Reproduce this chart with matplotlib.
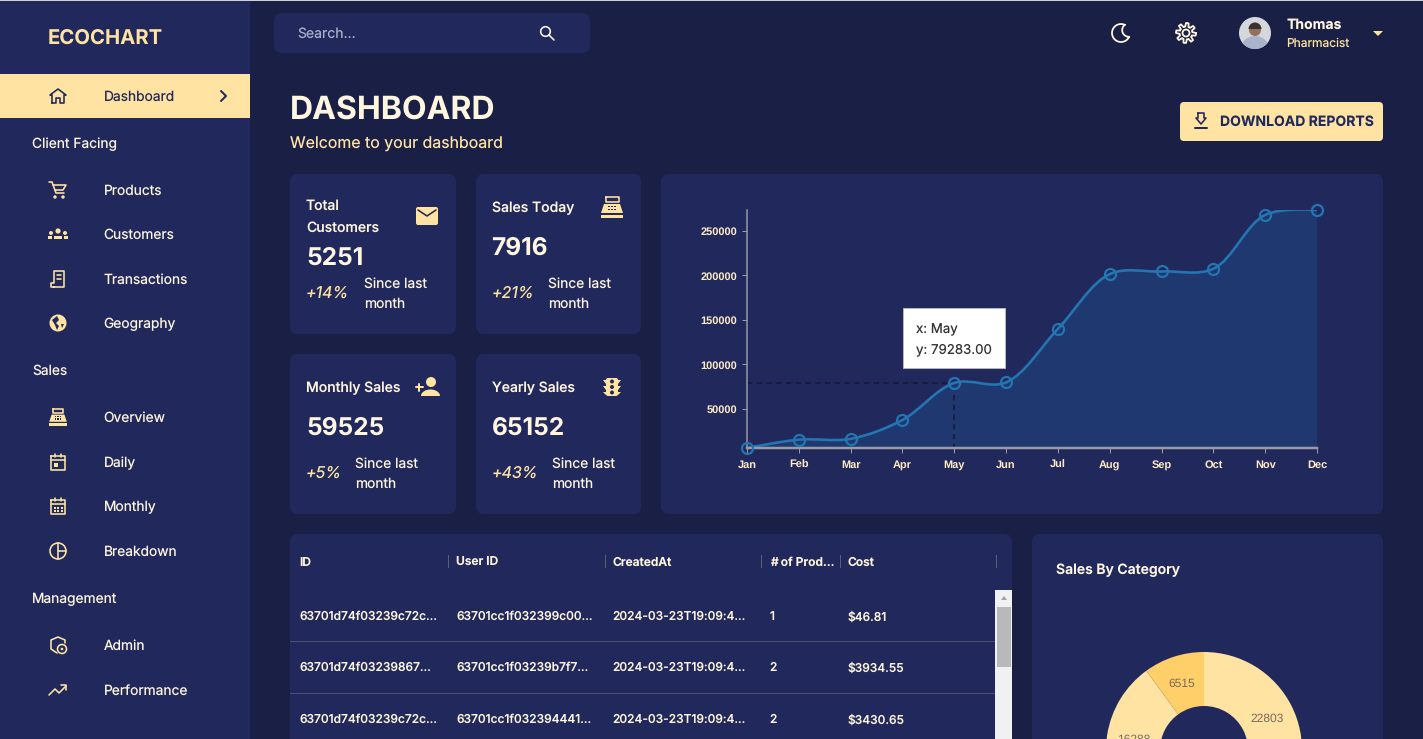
import matplotlib
matplotlib.use('Agg')
import matplotlib.pyplot as plt
import numpy as np
from matplotlib.patches import Circle, FancyBboxPatch, PathPatch, Polygon, Rectangle, Wedge
from matplotlib.path import Path

W, H = 1423, 739

BG = '#191f45'
PANEL = '#21295c'
YELLOW = '#ffe3a3'
CREAM = '#fff6e0'

plt.rcParams['font.family'] = ['Inter', 'DejaVu Sans']
plt.rcParams['text.hinting'] = 'no_hinting'
plt.rcParams['text.hinting_factor'] = 1

# chart data
months = ['Jan', 'Feb', 'Mar', 'Apr', 'May', 'Jun', 'Jul', 'Aug', 'Sep', 'Oct', 'Nov', 'Dec']
sales = [6200, 15600, 16500, 37700, 79283, 79900, 140000, 201500, 204500, 207500, 268000, 273500]
y_ticks = [50000, 100000, 150000, 200000, 250000]

category_values = [22803, 19545, 16288, 6515]
category_labels = ['22803', '', '16288', '6515']
category_colors = [YELLOW, YELLOW, YELLOW, '#ffd06a']

# page text
menu_items = ['Products', 'Customers', 'Transactions', 'Geography', 'Overview', 'Daily',
              'Monthly', 'Breakdown', 'Admin', 'Performance']
menu_y = [190, 234, 279, 323, 417, 462, 506, 551, 645, 690]
menu_heads = ['Client Facing', 'Sales', 'Management']
menu_head_y = [143, 370, 598]

card_values = ['5251', '7916', '59525', '65152']
card_changes = ['+14%', '+21%', '+5%', '+43%']

table_headers = ['ID', 'User ID', 'CreatedAt', '# of Prod...', 'Cost']
table_rows = [
    ['63701d74f03239c72c...', '63701cc1f032399c00...', '2024-03-23T19:09:4...', '1', '$46.81'],
    ['63701d74f03239867...', '63701cc1f03239b7f7...', '2024-03-23T19:09:4...', '2', '$3934.55'],
    ['63701d74f03239c72c...', '63701cc1f032394441...', '2024-03-23T19:09:4...', '2', '$3430.65'],
]


def catmull_rom_path(xs, ys):
    # same curve as d3 curveCatmullRom (alpha 0.5), knot spacing taken in pixels
    pts = np.column_stack([xs, ys]).astype(float)
    scale = np.array([570 / 11, 238 / (max(ys) - min(ys))])
    p = np.vstack([pts[0], pts, pts[-1]])
    verts = [tuple(pts[0])]
    codes = [Path.MOVETO]
    for i in range(len(pts) - 1):
        p0, p1, p2, p3 = p[i], p[i + 1], p[i + 2], p[i + 3]
        a = np.sqrt(np.linalg.norm((p1 - p0) * scale))
        b = np.sqrt(np.linalg.norm((p2 - p1) * scale))
        c = np.sqrt(np.linalg.norm((p3 - p2) * scale))
        c1, c2 = p1.copy(), p2.copy()
        if a > 1e-6:
            d = 2 * a * a + 3 * a * b + b * b
            c1 = (p1 * d - p0 * b * b + p2 * a * a) / (3 * a * (a + b))
        if c > 1e-6:
            d = 2 * c * c + 3 * c * b + b * b
            c2 = (p2 * d + p1 * c * c - p3 * b * b) / (3 * c * (c + b))
        verts += [tuple(c1), tuple(c2), tuple(p2)]
        codes += [Path.CURVE4] * 3
    return verts, codes


fig = plt.figure(figsize=(W / 100, H / 100), dpi=100, facecolor=BG)

page = fig.add_axes([0, 0, 1, 1], zorder=0)
page.set_xlim(0, W)
page.set_ylim(H, 0)
page.axis('off')


def px(size):
    return size * 0.72


def label(x, y, s, size=13.8, color=CREAM, weight='normal', style='normal', ha='left', ax=page):
    # y is the middle of the capitals, so every text in a row shares one baseline
    return ax.text(x, y + 0.36 * size, s, fontsize=px(size), color=color, fontweight=weight,
                   fontstyle=style, ha=ha, va='baseline')


def box(x0, y0, x1, y1, color=PANEL, r=8, ax=page):
    ax.add_patch(FancyBboxPatch((x0 + r, y0 + r), x1 - x0 - 2 * r, y1 - y0 - 2 * r,
                                boxstyle=f'round,pad={r},rounding_size={r}', fc=color, lw=0))


def rect(x0, y0, x1, y1, color):
    page.add_patch(Rectangle((x0, y0), x1 - x0, y1 - y0, fc=color, lw=0))


def stroke(points, color=CREAM, lw=1.6, closed=False):
    pts = list(points)
    if closed:
        pts.append(pts[0])
    page.plot([p[0] for p in pts], [p[1] for p in pts], color=color, lw=px(lw),
              solid_capstyle='round', solid_joinstyle='round')


def fill(points, color=YELLOW):
    page.add_patch(Polygon(points, closed=True, fc=color, lw=0))


def dot(x, y, r, color=CREAM, outline=False, lw=1.6):
    if outline:
        page.add_patch(Circle((x, y), r, fc='none', ec=color, lw=px(lw)))
    else:
        page.add_patch(Circle((x, y), r, fc=color, lw=0))


def arc(cx, cy, r, a0, a1, n=30):
    t = np.radians(np.linspace(a0, a1, n))
    return list(zip(cx + r * np.cos(t), cy + r * np.sin(t)))


# ---- icons, rough versions of the material ones ----
def icon_home(x, y, c):
    stroke([(x - 6, y + 7), (x - 6, y - 1), (x - 8, y - 1), (x, y - 7), (x + 8, y - 1),
            (x + 6, y - 1), (x + 6, y + 7), (x + 2, y + 7), (x + 2, y + 2), (x - 2, y + 2),
            (x - 2, y + 7)], c, closed=True)


def icon_cart(x, y, c):
    stroke([(x - 9, y - 8), (x - 6, y - 8), (x - 2, y + 3), (x + 6, y + 3)], c)
    stroke([(x - 5, y - 5), (x + 8, y - 5), (x + 5, y), (x - 3, y)], c)
    dot(x - 3, y + 7, 1.7, c)
    dot(x + 5, y + 7, 1.7, c)


def icon_people(x, y, c):
    dot(x, y - 3, 2.6, c)
    dot(x - 7, y - 1, 2, c)
    dot(x + 7, y - 1, 2, c)
    fill([(x - 4, y + 5), (x - 4, y + 2), (x + 4, y + 2), (x + 4, y + 5)], c)
    fill([(x - 10, y + 5), (x - 10, y + 2), (x - 6, y + 2), (x - 6, y + 5)], c)
    fill([(x + 6, y + 5), (x + 6, y + 2), (x + 10, y + 2), (x + 10, y + 5)], c)


def icon_receipt(x, y, c):
    stroke([(x - 4, y + 8), (x + 6, y + 8), (x + 6, y - 8), (x - 4, y - 8), (x - 4, y + 4),
            (x - 7, y + 4), (x - 7, y + 8), (x - 4, y + 8)], c)
    stroke([(x - 1, y - 4), (x + 3, y - 4)], c)
    stroke([(x - 1, y), (x + 3, y)], c)


def icon_globe(x, y, c):
    dot(x, y, 8.5, c)
    fill([(x - 6, y - 3), (x - 1, y - 7), (x + 1, y - 3), (x - 2, y), (x + 1, y + 3), (x - 1, y + 7),
          (x - 3, y + 2)], PANEL)
    fill([(x + 3, y + 1), (x + 6, y + 1), (x + 4, y + 5)], PANEL)


def icon_register(x, y, c, s=1.0):
    stroke([(x - 6.5 * s, y - 10 * s), (x + 6.5 * s, y - 10 * s), (x + 6.5 * s, y - 5 * s),
            (x - 6.5 * s, y - 5 * s)], c, closed=True)
    fill([(x - 8 * s, y - 3 * s), (x + 8 * s, y - 3 * s), (x + 11 * s, y + 6 * s), (x - 11 * s, y + 6 * s)], c)
    rect(x - 11 * s, y + 7.5 * s, x + 11 * s, y + 11 * s, c)
    for dx in (-3, 0, 3):
        for dy in (-0.5, 2.5):
            rect(x + dx * s - 0.7, y + dy * s - 0.7, x + dx * s + 0.7, y + dy * s + 0.7, PANEL)


def icon_calendar(x, y, c, grid=False):
    stroke([(x - 7, y - 6), (x + 7, y - 6), (x + 7, y + 8), (x - 7, y + 8)], c, closed=True)
    stroke([(x - 7, y - 2), (x + 7, y - 2)], c)
    stroke([(x - 3, y - 8), (x - 3, y - 5)], c)
    stroke([(x + 3, y - 8), (x + 3, y - 5)], c)
    if grid:
        for dx in (-3.5, 0, 3.5):
            for dy in (1.5, 5):
                rect(x + dx - 1, y + dy - 1, x + dx + 1, y + dy + 1, c)
    else:
        rect(x - 4, y + 1, x, y + 5, c)


def icon_pie(x, y, c):
    dot(x, y, 8, c, outline=True)
    stroke([(x, y - 8), (x, y + 8)], c)
    stroke([(x, y), (x + 8, y)], c)


def icon_admin(x, y, c):
    stroke([(x - 1, y + 8), (x - 7, y + 4), (x - 7, y - 5), (x, y - 8), (x + 7, y - 5), (x + 7, y - 2)], c)
    dot(x + 4, y + 4, 4.5, c, outline=True)
    dot(x + 4, y + 4, 1.3, c)


def icon_trend(x, y, c):
    stroke([(x - 9, y + 5), (x - 3, y - 1), (x + 1, y + 3), (x + 8, y - 4)], c)
    stroke([(x + 3, y - 5), (x + 8, y - 5), (x + 8, y)], c)


def icon_search(x, y, c):
    dot(x - 1.5, y - 1.5, 4.8, c, outline=True)
    stroke([(x + 2, y + 2), (x + 7, y + 7)], c)


def icon_moon(x, y, c):
    stroke(arc(x, y, 9, 295, 25) + arc(x + 7.9, y - 2.9, 6.7, 87, 232), c, lw=1.8)


def icon_gear(x, y, c):
    t = np.radians(np.arange(0, 360, 7.5))
    r = 8.2 + 1.8 * np.sign(np.sin(8 * t + 0.4))
    stroke(list(zip(x + r * np.cos(t), y + r * np.sin(t))), c, lw=1.8, closed=True)
    dot(x, y, 3.5, c, outline=True, lw=1.8)


def icon_download(x, y, c):
    stroke([(x - 3, y - 8), (x + 3, y - 8), (x + 3, y - 3), (x + 5, y - 3), (x, y + 3), (x - 5, y - 3),
            (x - 3, y - 3)], c, closed=True)
    stroke([(x - 6, y + 7), (x + 6, y + 7)], c, lw=2)


def icon_mail(x, y, c):
    box(x - 11, y - 9, x + 11, y + 9, c, r=2)
    stroke([(x - 9, y - 6), (x, y), (x + 9, y - 6)], PANEL, lw=1.6)


def icon_person_add(x, y, c):
    dot(x + 4, y - 5, 5, c)
    t = np.radians(np.linspace(180, 360, 30))
    fill(list(zip(x + 3.5 + 9.5 * np.cos(t), y + 9 + 6.5 * np.sin(t))), c)
    stroke([(x - 11.5, y), (x - 4.5, y)], c, lw=2)
    stroke([(x - 8, y - 3.5), (x - 8, y + 3.5)], c, lw=2)


def icon_traffic(x, y, c):
    box(x - 6, y - 9, x + 6, y + 9, c, r=2)
    fill([(x - 9, y - 7), (x - 6, y - 7), (x - 6, y - 3)], c)
    fill([(x + 9, y - 7), (x + 6, y - 7), (x + 6, y - 3)], c)
    fill([(x - 9, y - 1), (x - 6, y - 1), (x - 6, y + 3)], c)
    fill([(x + 9, y - 1), (x + 6, y - 1), (x + 6, y + 3)], c)
    fill([(x - 9, y + 5), (x - 6, y + 5), (x - 6, y + 8)], c)
    fill([(x + 9, y + 5), (x + 6, y + 5), (x + 6, y + 8)], c)
    for dy in (-5.5, 0, 5.5):
        dot(x, y + dy, 2, PANEL)


def avatar(x, y):
    face = Circle((x, y), 16, fc='#d5d8da', lw=0)
    page.add_patch(face)
    parts = [Wedge((x, y + 18), 15, 180, 360, fc='#a9b4cc', lw=0),
             Circle((x, y - 3), 6, fc='#94705c', lw=0),
             Wedge((x, y - 4), 6.5, 180, 360, fc='#3a3230', lw=0)]
    for part in parts:
        page.add_patch(part)
        part.set_clip_path(face)


# ---- sidebar ----
rect(0, 0, 250, H, PANEL)
rect(0, 74, 250, 118, YELLOW)
rect(0, 0, W, 1, '#d0d0d0')
label(48, 36.5, 'ECOCHART', 20.3, YELLOW, 'bold')
icon_home(58, 96, PANEL)
label(104, 96, 'Dashboard', 13.8, PANEL)
stroke([(221, 91), (226, 96), (221, 101)], PANEL, lw=2)
for s, y in zip(menu_heads, menu_head_y):
    label(32, y, s)
for s, y in zip(menu_items, menu_y):
    label(103.7, y, s)
icon_cart(58, 190, YELLOW)
icon_people(58, 234, YELLOW)
icon_receipt(58, 279, YELLOW)
icon_globe(58, 323, YELLOW)
icon_register(58, 417, YELLOW, s=0.8)
icon_calendar(58, 462, YELLOW)
icon_calendar(58, 506, YELLOW, grid=True)
icon_pie(58, 551, YELLOW)
icon_admin(58, 645, YELLOW)
icon_trend(58, 690, YELLOW)

# ---- top bar ----
box(274, 13, 590, 53)
label(297.5, 33, 'Search...', 14, '#a9adc8')
icon_search(547, 33, CREAM)
icon_moon(1121, 33, CREAM)
icon_gear(1186, 33, CREAM)
avatar(1255, 33)
label(1287, 24, 'Thomas', 14, CREAM, 'bold')
label(1286.5, 43, 'Pharmacist', 12, YELLOW)
fill([(1373, 31), (1383, 31), (1378, 36)], YELLOW)

# ---- page header ----
label(290, 107.5, 'DASHBOARD', 32, CREAM, 'bold')
label(290, 142.5, 'Welcome to your dashboard', 15.9, YELLOW)
box(1180, 102, 1383, 141, YELLOW, r=4)
icon_download(1201, 121, PANEL)
label(1220, 121, 'DOWNLOAD REPORTS', 14, PANEL, 'bold')

# ---- stat cards ----
box(290, 174, 456, 334)
box(476, 174, 641, 334)
box(290, 354, 456, 514)
box(476, 354, 641, 514)
box(661, 174, 1383, 514)
box(290, 534, 1012, 780)
box(1032, 534, 1383, 780)

label(306, 205, 'Total', 14, CREAM, 'medium')
label(306, 227, 'Customers', 14, CREAM, 'medium')
label(491.5, 207, 'Sales Today', 14, CREAM, 'medium')
label(306, 387, 'Monthly Sales', 14, CREAM, 'medium')
label(491.5, 387, 'Yearly Sales', 14, CREAM, 'medium')
icon_mail(427, 216, YELLOW)
icon_register(612, 207, YELLOW)
icon_person_add(427, 387, YELLOW)
icon_traffic(612, 387, YELLOW)

card_x = [306, 491.5, 306, 491.5]
card_value_y = [255.5, 245.5, 425.5, 425.5]
card_change_y = [292, 292, 472, 472]
card_since_x = [364, 548, 355, 552]
for i in range(4):
    label(card_x[i], card_value_y[i], card_values[i], 24.5, CREAM, 'bold')
    label(card_x[i], card_change_y[i], card_changes[i], 16, YELLOW, style='italic')
    label(card_since_x[i], card_change_y[i] - 9, 'Since last')
    label(card_since_x[i], card_change_y[i] + 11, 'month')

# ---- table ----
col_x = [299.5, 456.5, 612.7, 769.7, 848]
for x, s in zip(col_x, table_headers):
    label(x, 562, s, 12, CREAM, 'semibold')
for x in [448.5, 605.5, 761.5, 840.5, 996.5]:
    rect(x - 0.5, 555, x + 0.5, 568, '#5c5f70')
for y, row in zip([616, 667, 719], table_rows):
    for x, s in zip(col_x, row):
        label(x, y, s, 12, CREAM, 'medium')
for y in [641, 693]:
    rect(290, y, 995, y + 1, '#4b5072')
rect(995, 590, 1012, H, '#f1f1f1')
rect(997, 607, 1011, 667, '#b9b9b9')
fill([(1001, 600), (1007, 600), (1004, 596)], '#a3a3a3')

label(1056, 569, 'Sales By Category', 14, CREAM, 'semibold')

# ---- line chart ----
ax = fig.add_axes([747 / W, 1 - 448 / H, 570 / W, 238 / H], zorder=1)
ax.patch.set_alpha(0)
xs = np.arange(len(months))
ax.set_xlim(0, len(months) - 1)
ax.set_ylim(min(sales), max(sales))

verts, codes = catmull_rom_path(xs, sales)
ax.add_patch(PathPatch(Path(verts + [(xs[-1], min(sales)), (xs[0], min(sales)), verts[0]],
                            codes + [Path.LINETO, Path.LINETO, Path.CLOSEPOLY]),
                       fc='#203870', lw=0, zorder=1))
ax.add_patch(PathPatch(Path(verts, codes), fc='none', ec='#2376b2', lw=px(2.6), zorder=2))
ax.plot(xs, sales, ls='none', marker='o', ms=px(11), mfc='none', mec='#2376b2', mew=px(2.2),
        clip_on=False, zorder=3)

may = months.index('May')
ax.plot([0, may - 0.13], [sales[may]] * 2, color='#14172e', lw=px(1.5), ls=(0, (3.5, 3)), zorder=2)
ax.plot([may, may], [sales[may] - 14000, min(sales)], color='#14172e', lw=px(1.5), ls=(0, (3.5, 3)), zorder=2)

for side in ['top', 'right']:
    ax.spines[side].set_visible(False)
ax.spines['left'].set_color('#9a9aa5')
ax.spines['left'].set_linewidth(px(1.5))
ax.spines['bottom'].set_color('#9a9aa5')
ax.spines['bottom'].set_linewidth(px(2.5))
ax.set_xticks(xs, months)
ax.set_yticks(y_ticks, [str(v) for v in y_ticks])
ax.tick_params(axis='both', length=px(5), width=px(1), color='#9a9aa5', labelcolor='#ffecc4',
               labelsize=px(11), pad=px(4.5))
ax.tick_params(axis='x', pad=px(7))
for t in ax.get_xticklabels() + ax.get_yticklabels():
    t.set_fontfamily('Liberation Sans')
    t.set_fontweight('bold')

# tooltip sits above the chart
top = fig.add_axes([0, 0, 1, 1], zorder=3)
top.set_xlim(0, W)
top.set_ylim(H, 0)
top.axis('off')
top.add_patch(Rectangle((903, 308), 102, 60, fc='white', ec='#b5b5bd', lw=px(1)))
label(916, 328.5, f'x: {months[may]}', 13.3, '#333333', ax=top)
label(916, 348.5, f'y: {sales[may]:.2f}', 13.3, '#333333', ax=top)

# ---- donut ----
R = 98
pie_ax = fig.add_axes([(1204 - R) / W, 1 - (750 + R) / H, 2 * R / W, 2 * R / H], zorder=1)
wedges, texts = pie_ax.pie(category_values, colors=category_colors, labels=category_labels,
                           startangle=90, counterclock=False, radius=1, labeldistance=0.724,
                           wedgeprops={'width': 1 - 44 / R, 'lw': 0})
pie_ax.set_xlim(-1, 1)
pie_ax.set_ylim(-1, 1)
for t in texts:
    t.set_ha('center')
    t.set_va('center_baseline')
    t.set_fontsize(px(12))
    t.set_color('#7b6a5a')
    t.set_fontfamily('Liberation Sans')

fig.savefig('out.png', dpi=100, facecolor=BG)
